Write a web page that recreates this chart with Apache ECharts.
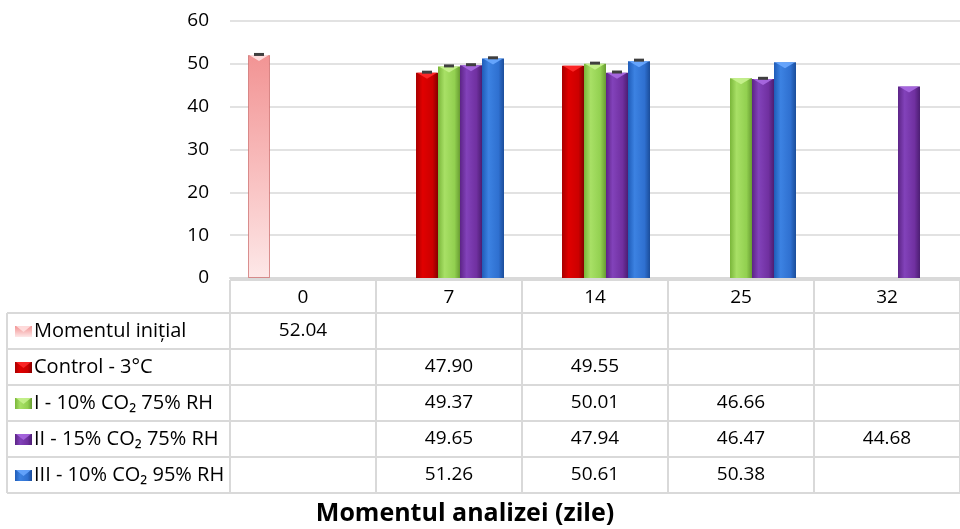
<!DOCTYPE html>
<html>
<head>
<meta charset="utf-8">
<script src="https://cdn.jsdelivr.net/npm/echarts@6/dist/echarts.min.js"></script>
<style>
  html, body { margin: 0; padding: 0; background: #fff; }
  #chart { width: 960px; height: 529px; }
</style>
</head>
<body>
<div id="chart"></div>
<script>
// Analysis days (category axis) and value-axis ticks
const categories = ['0', '7', '14', '25', '32'];
const yTicks = [0, 10, 20, 30, 40, 50, 60];

// Series names
const seriesNames = [
  'Momentul inițial',
  'Control - 3°C',
  'I - 10% CO₂ 75% RH',
  'II - 15% CO₂ 75% RH',
  'III - 10% CO₂ 95% RH'
];

// Measured values per series (null = not measured that day)
const initialValues = [52.04, null, null, null, null];
const controlValues = [null, 47.90, 49.55, null, null];
const treatIValues = [null, 49.37, 50.01, 46.66, null];
const treatIIValues = [null, 49.65, 47.94, 46.47, 44.68];
const treatIIIValues = [null, 51.26, 50.61, 50.38, null];

// Standard deviations (error-bar caps)
const initialErr = [0.15, null, null, null, null];
const controlErr = [null, 0.15, null, null, null];
const treatIErr = [null, 0.15, 0.15, null, null];
const treatIIErr = [null, 0.15, 0.15, 0.15, null];
const treatIIIErr = [null, 0.15, 0.25, null, null];

const allValues = [initialValues, controlValues, treatIValues, treatIIValues, treatIIIValues];
const allErr = [initialErr, controlErr, treatIErr, treatIIErr, treatIIIErr];

// Styling
const FONT = '"Open Sans", "Noto Sans", sans-serif';
const BAR_W = 22;
const LINE = '#d9d9d9';
const GRID = { left: 230, right: -3, top: 21, bottom: 251 };

function hGrad(stops) {
  return new echarts.graphic.LinearGradient(0, 0, 1, 0,
    stops.map((c, i) => ({ offset: [0, 0.3, 0.75, 1][i], color: c })));
}
const bodyFill = [
  new echarts.graphic.LinearGradient(0, 0, 0, 1, [
    { offset: 0, color: '#f29494' }, { offset: 0.5, color: '#f8bcbc' }, { offset: 1, color: '#fde8e8' }
  ]),
  hGrad(['#a80000', '#e00000', '#cc0000', '#850000']),
  hGrad(['#7ab63a', '#a8e066', '#92d050', '#689c32']),
  hGrad(['#5c2486', '#8242ba', '#7030a0', '#4c1e72']),
  hGrad(['#1f5cb8', '#3c82e2', '#2f70d0', '#1b4d9a'])
];
const topFill = ['#ffe4e4', '#ff2a2a', '#c8f290', '#aa6ae2', '#6aa8ff'];

const barSeries = allValues.map((vals, si) => ({
  name: seriesNames[si],
  type: 'bar',
  data: vals,
  barWidth: BAR_W,
  barGap: '0%',
  itemStyle: si === 0
    ? { color: bodyFill[si], borderColor: 'rgba(205,110,110,0.5)', borderWidth: 1 }
    : { color: bodyFill[si] },
  z: 2,
  silent: true
}));

// Top bevel and error caps drawn over each bar
const overlayData = [];
allValues.forEach((vals, si) => {
  vals.forEach((v, ci) => {
    if (v != null) overlayData.push([ci, v, allErr[si][ci] || 0, si]);
  });
});

const overlaySeries = {
  type: 'custom',
  data: overlayData,
  z: 5,
  silent: true,
  renderItem(params, api) {
    const ci = api.value(0), v = api.value(1), err = api.value(2), si = api.value(3);
    const top = api.coord([ci, v]);
    const cx = top[0] + (si - 2) * BAR_W;
    const l = cx - BAR_W / 2, r = cx + BAR_W / 2;
    const children = [{
      type: 'polygon',
      shape: { points: [[l + 1, top[1]], [r - 1, top[1]], [cx, top[1] + 6]] },
      style: { fill: topFill[si], opacity: 0.9 }
    }];
    if (err > 0) {
      const ey = api.coord([ci, v + err])[1];
      children.push({
        type: 'line',
        shape: { x1: cx - 5, y1: ey, x2: cx + 5, y2: ey },
        style: { stroke: '#3f3f3f', lineWidth: 3 }
      });
    }
    return { type: 'group', children };
  }
};

const chart = echarts.init(document.getElementById('chart'), null, { renderer: 'canvas' });

chart.setOption({
  animation: false,
  backgroundColor: '#ffffff',
  grid: GRID,
  xAxis: {
    type: 'category',
    data: categories,
    axisLine: { lineStyle: { color: LINE, width: 2 } },
    axisTick: { show: false },
    axisLabel: { margin: 10, color: '#000', fontFamily: FONT, fontSize: 19 }
  },
  yAxis: {
    type: 'value',
    min: yTicks[0],
    max: yTicks[yTicks.length - 1],
    interval: yTicks[1] - yTicks[0],
    axisLine: { show: false },
    axisTick: { show: false },
    axisLabel: { margin: 21, color: '#000', fontFamily: FONT, fontSize: 19 },
    splitLine: { lineStyle: { color: LINE, width: 1.5 } }
  },
  series: [...barSeries, overlaySeries]
});

// Data table beneath the plot
const ROW_TOP = 280, HEAD_BOT = 313, ROW_H = 36;
const TABLE_LEFT = 7, LABEL_COL_R = 230, TABLE_RIGHT = 963;
const colCenters = categories.map((c, i) => chart.convertToPixel({ xAxisIndex: 0 }, i));
const colW = colCenters[1] - colCenters[0];
const rowCount = seriesNames.length;
const tableBottom = HEAD_BOT + rowCount * ROW_H;

const g = [];
const hline = (x1, x2, y) => g.push({ type: 'line', shape: { x1, y1: y, x2, y2: y }, style: { stroke: LINE, lineWidth: 2 }, silent: true });
const vline = (x, y1, y2) => g.push({ type: 'line', shape: { x1: x, y1, x2: x, y2 }, style: { stroke: LINE, lineWidth: 2 }, silent: true });

hline(LABEL_COL_R, TABLE_RIGHT, ROW_TOP);
for (let r = 0; r <= rowCount; r++) hline(TABLE_LEFT, TABLE_RIGHT, HEAD_BOT + r * ROW_H);
vline(TABLE_LEFT, HEAD_BOT, tableBottom);
vline(LABEL_COL_R, ROW_TOP, tableBottom);
colCenters.forEach(cx => vline(cx + colW / 2, ROW_TOP, tableBottom));

seriesNames.forEach((name, si) => {
  const cy = HEAD_BOT + si * ROW_H + ROW_H / 2;
  // legend key
  g.push({ type: 'rect', shape: { x: 15, y: cy - 5, width: 17, height: 11 }, style: { fill: bodyFill[si] }, silent: true });
  g.push({ type: 'polygon', shape: { points: [[16, cy - 5], [31, cy - 5], [23.5, cy + 1]] }, style: { fill: topFill[si], opacity: 0.85 }, silent: true });
  g.push({
    type: 'text', x: 34, y: cy,
    style: { text: name, fill: '#000', font: '20px ' + FONT, textVerticalAlign: 'middle', textAlign: 'left' },
    silent: true
  });
  allValues[si].forEach((v, ci) => {
    if (v == null) return;
    g.push({
      type: 'text', x: colCenters[ci], y: cy,
      style: { text: v.toFixed(2), fill: '#000', font: '19px ' + FONT, textAlign: 'center', textVerticalAlign: 'middle' },
      silent: true
    });
  });
});

// Axis title
g.push({
  type: 'text', x: 465, y: 514,
  style: { text: 'Momentul analizei (zile)', fill: '#000', font: 'bold 25px ' + FONT, textAlign: 'center', textVerticalAlign: 'middle' },
  silent: true
});

chart.setOption({ graphic: g });
</script>
</body>
</html>
